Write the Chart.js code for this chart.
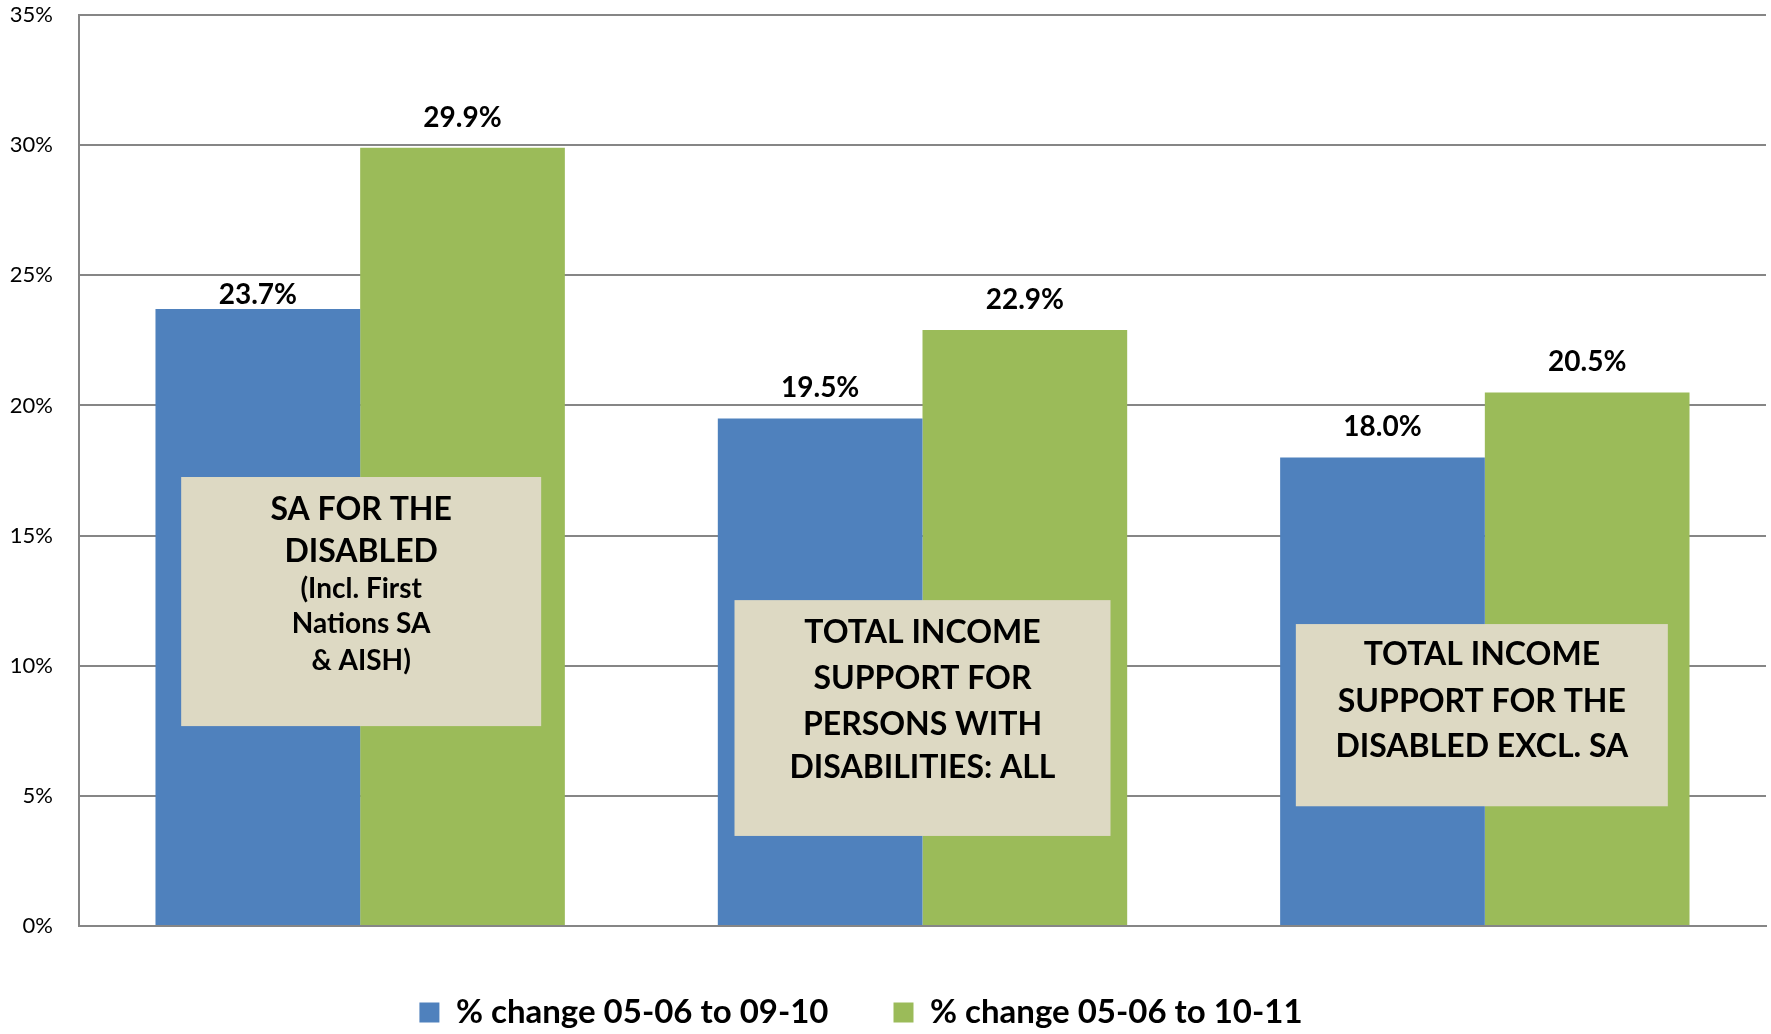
<!DOCTYPE html>
<html>
<head>
<meta charset="utf-8">
<script src="https://cdn.jsdelivr.net/npm/chart.js@4.4.0/dist/chart.umd.min.js"></script>
<style>
  body { margin: 0; background: #fff; }
</style>
</head>
<body>
<canvas id="chart" width="1771" height="1034"></canvas>
<script>
const categories = ['SA for the disabled', 'Total income support: all', 'Total income support excl. SA'];
const seriesNames = ['% change 05-06 to 09-10', '% change 05-06 to 10-11'];
const change0910 = [23.7, 19.5, 18.0];
const change1011 = [29.9, 22.9, 20.5];
const yTicks = [0, 5, 10, 15, 20, 25, 30, 35];

// text of the beige boxes; "big" lines are the larger heading size
const boxLines = [
  [['SA FOR THE', true], ['DISABLED', true], ['(Incl. First', false], ['Nations SA', false], ['& AISH)', false]],
  [['TOTAL INCOME', true], ['SUPPORT FOR', true], ['PERSONS WITH', true], ['DISABILITIES: ALL', true]],
  [['TOTAL INCOME', true], ['SUPPORT FOR THE', true], ['DISABLED EXCL. SA', true]]
];

const FONT = 'Lato, "Open Sans", sans-serif';

// where each box sits: half width in px around the category centre, top/bottom in axis units
const boxPlaces = [
  { dx: 1, half: 180, top: 17.25, bottom: 7.68, baselines: [43, 85, 121, 156, 193] },
  { dx: 0, half: 188, top: 12.52, bottom: 3.46, baselines: [43, 89, 135, 178] },
  { dx: -3, half: 186, top: 11.6, bottom: 4.6, baselines: [41, 88, 133] }
];

// gap between bar top and label baseline, per dataset / category
// (the first blue label was pulled down in the original)
const labelGaps = [[5, 21, 21], [21, 21, 21]];

const valueLabels = {
  id: 'valueLabels',
  afterDatasetsDraw(chart) {
    const ctx = chart.ctx;
    ctx.save();
    ctx.fillStyle = '#000';
    ctx.font = 'bold 28px ' + FONT;
    ctx.textAlign = 'center';
    ctx.textBaseline = 'alphabetic';
    chart.data.datasets.forEach((ds, di) => {
      chart.getDatasetMeta(di).data.forEach((bar, i) => {
        ctx.fillText(ds.data[i].toFixed(1) + '%', bar.x, bar.y - labelGaps[di][i]);
      });
    });
    ctx.restore();
  }
};

const categoryBoxes = {
  id: 'categoryBoxes',
  afterDatasetsDraw(chart) {
    const ctx = chart.ctx;
    const x = chart.scales.x, y = chart.scales.y;
    ctx.save();
    boxPlaces.forEach((p, i) => {
      const cx = x.getPixelForValue(i) + p.dx;
      const top = y.getPixelForValue(p.top);
      const bottom = y.getPixelForValue(p.bottom);
      ctx.fillStyle = '#ddd9c3';
      ctx.fillRect(cx - p.half, top, p.half * 2, bottom - top);
      ctx.fillStyle = '#000';
      ctx.textAlign = 'center';
      ctx.textBaseline = 'alphabetic';
      boxLines[i].forEach(([text, big], li) => {
        ctx.font = 'bold ' + (big ? 32 : 28) + 'px ' + FONT;
        ctx.fillText(text, cx, top + p.baselines[li]);
      });
    });
    ctx.restore();
  }
};

// excel centres the legend a little left of the page centre
const legendNudge = {
  id: 'legendNudge',
  afterLayout(chart) {
    chart.legend.left -= 22;
    chart.legend.right -= 22;
  }
};

new Chart(document.getElementById('chart'), {
  type: 'bar',
  data: {
    labels: categories,
    datasets: [
      { label: seriesNames[0], data: change0910, backgroundColor: '#4f81bd' },
      { label: seriesNames[1], data: change1011, backgroundColor: '#9bbb59' }
    ]
  },
  options: {
    responsive: false,
    devicePixelRatio: 1,
    animation: false,
    categoryPercentage: 0.728,
    barPercentage: 1,
    layout: { padding: { top: 15, right: 5, left: 0, bottom: -5 } },
    plugins: {
      tooltip: { enabled: false },
      legend: {
        position: 'bottom',
        labels: {
          boxWidth: 20,
          boxHeight: 20,
          padding: 65,
          color: '#000',
          font: { family: FONT, size: 33, weight: 'bold' }
        }
      }
    },
    scales: {
      x: {
        ticks: { display: false },
        grid: { display: false },
        border: { color: '#868686', width: 2 },
        afterFit: (s) => { s.height = 5; }
      },
      y: {
        min: 0,
        max: 35,
        afterBuildTicks: (s) => { s.ticks = yTicks.map(v => ({ value: v })); },
        afterFit: (s) => {
          s.width = 79;
          s.paddingTop = 0;
          s.paddingBottom = 0;
        },
        ticks: {
          padding: 26,
          color: '#000',
          font: { family: FONT, size: 22 },
          callback: (v) => v + '%'
        },
        grid: { color: '#868686', lineWidth: 2, drawTicks: false },
        border: { color: '#868686', width: 2 }
      }
    }
  },
  plugins: [valueLabels, categoryBoxes, legendNudge]
});
</script>
</body>
</html>
